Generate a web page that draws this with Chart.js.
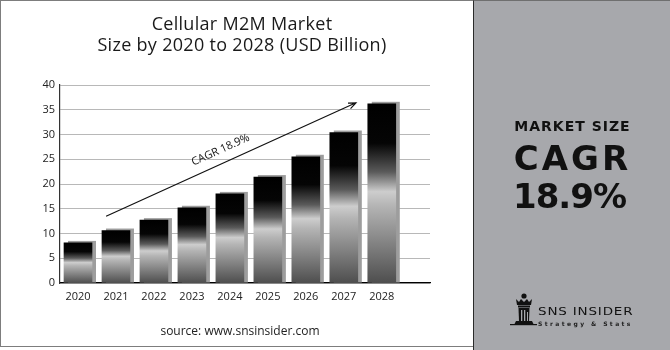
<!DOCTYPE html>
<html>
<head>
<meta charset="utf-8">
<script src="https://cdn.jsdelivr.net/npm/chart.js@4.4.1/dist/chart.umd.min.js"></script>
<style>
	html, body { margin: 0; padding: 0; background: #fff; }
	#wrap { position: relative; width: 670px; height: 350px; overflow: hidden; font-family: 'Open Sans', sans-serif; color: #1a1a1a; }
	#frame { position: absolute; left: 0; top: 0; width: 473px; height: 347px; border: 1px solid #7d7d7d; border-right: none; box-sizing: border-box; }
	#chart { position: absolute; left: 0; top: 0; }
	.title { position: absolute; left: 0; width: 484px; text-align: center; font-size: 18px; letter-spacing: 0.3px; line-height: 20px; }
	#source { position: absolute; left: 0; top: 323px; width: 480px; text-align: center; font-size: 12px; line-height: 16px; color: #222; }
	#panel { position: absolute; left: 473px; top: 0; width: 197px; height: 350px; background: #a7a8ac; border-left: 1.5px solid #2b2b2b; border-top: 1px solid #6f6f6f; box-sizing: border-box; }
	.big { position: absolute; left: 0; width: 197px; text-align: center; font-family: 'DejaVu Sans', sans-serif; font-weight: bold; color: #111; }
	#logoText { position: absolute; left: 64px; top: 305px; font-family: 'DejaVu Sans', sans-serif; font-size: 10px; letter-spacing: 0.6px; color: #111; transform: scale(1.35, 1); transform-origin: left top; white-space: nowrap; }
	#logoSub { position: absolute; left: 64px; top: 319px; font-family: 'DejaVu Sans', sans-serif; font-size: 6px; font-weight: bold; letter-spacing: 2.4px; color: #222; white-space: nowrap; }
</style>
</head>
<body>
<div id="wrap">
	<div id="frame"></div>
	<canvas id="chart" width="474" height="350"></canvas>
	<div class="title" style="top:13px">Cellular M2M Market</div>
	<div class="title" style="top:34px">Size by 2020 to 2028 (USD Billion)</div>
	<div id="source">source: www.snsinsider.com</div>
	<div id="panel">
		<div class="big" style="top:117px;font-size:14px;letter-spacing:1px">MARKET SIZE</div>
		<div class="big" style="top:137px;font-size:34px;letter-spacing:3px">CAGR</div>
		<div class="big" style="top:175px;font-size:34px;letter-spacing:-1px;left:-3px">18.9%</div>
		<svg style="position:absolute;left:36px;top:292px" width="28" height="34" viewBox="0 0 28 34">
			<circle cx="14" cy="3" r="2.6" fill="#111"/>
			<path d="M6 6 L9 9 L11 6 L14 9 L17 6 L19 9 L22 6 L21 12 L7 12 Z" fill="#111"/>
			<rect x="8" y="12.5" width="12" height="2" fill="#111"/>
			<path d="M8.5 15 L19.5 15 L19 28 L9 28 Z" fill="#111"/>
			<rect x="11" y="17" width="1.3" height="11" fill="#a7a8ac"/>
			<rect x="14" y="17" width="1.3" height="11" fill="#a7a8ac"/>
			<rect x="17" y="19" width="1" height="9" fill="#a7a8ac"/>
			<path d="M6 28 L22 28 L24 32 L4 32 Z" fill="#111"/>
			<rect x="0" y="31" width="27" height="1.2" fill="#111"/>
		</svg>
		<div id="logoText">SNS INSIDER</div>
		<div id="logoSub">Strategy &amp; Stats</div>
	</div>
</div>
<script>
const years = ['2020', '2021', '2022', '2023', '2024', '2025', '2026', '2027', '2028'];
const marketSize = [8.1, 10.6, 12.7, 15.2, 18.0, 21.4, 25.5, 30.4, 36.2];
const yTickValues = [0, 5, 10, 15, 20, 25, 30, 35, 40];
const cagrLabel = 'CAGR 18.9%';
// arrow in data units: [category index, value]
const arrowFrom = [0.74, 13.5];
const arrowTo = [7.32, 36.4];

function barFill(c) {
	const chart = c.chart;
	if (!chart.chartArea || c.type !== 'data') {
		return '#000';
	}
	const ys = chart.scales.y;
	const top = ys.getPixelForValue(c.parsed.y);
	const base = ys.getPixelForValue(0);
	const g = chart.ctx.createLinearGradient(0, top, 0, base);
	g.addColorStop(0, '#000');
	g.addColorStop(0.22, '#050505');
	g.addColorStop(0.38, '#5a5a5a');
	g.addColorStop(0.49, '#cdcdcd');
	g.addColorStop(0.57, '#b4b4b4');
	g.addColorStop(1, '#4e4e4e');
	return g;
}

const barShadow = {
	id: 'barShadow',
	beforeDatasetsDraw(chart) {
		const ctx = chart.ctx;
		ctx.save();
		ctx.fillStyle = '#9d9d9d';
		chart.getDatasetMeta(0).data.forEach(function (bar) {
			const p = bar.getProps(['x', 'y', 'base', 'width'], true);
			ctx.fillRect(p.x - p.width / 2 + 4, p.y - 2, p.width, p.base - p.y + 2);
		});
		ctx.restore();
	}
};

const cagrArrow = {
	id: 'cagrArrow',
	afterDatasetsDraw(chart) {
		const ctx = chart.ctx;
		const xs = chart.scales.x;
		const ys = chart.scales.y;
		const x1 = xs.getPixelForValue(arrowFrom[0]);
		const y1 = ys.getPixelForValue(arrowFrom[1]);
		const x2 = xs.getPixelForValue(arrowTo[0]);
		const y2 = ys.getPixelForValue(arrowTo[1]);
		const ang = Math.atan2(y2 - y1, x2 - x1);
		ctx.save();
		ctx.strokeStyle = '#111';
		ctx.lineWidth = 1.2;
		ctx.beginPath();
		ctx.moveTo(x1, y1);
		ctx.lineTo(x2, y2);
		ctx.moveTo(x2 - 8 * Math.cos(ang - 0.4), y2 - 8 * Math.sin(ang - 0.4));
		ctx.lineTo(x2, y2);
		ctx.lineTo(x2 - 8 * Math.cos(ang + 0.4), y2 - 8 * Math.sin(ang + 0.4));
		ctx.stroke();
		const mx = x1 + (x2 - x1) * 0.48;
		const my = y1 + (y2 - y1) * 0.48;
		ctx.translate(mx + 13 * Math.sin(ang), my - 13 * Math.cos(ang));
		ctx.rotate(ang);
		ctx.fillStyle = '#111';
		ctx.font = '11px "Open Sans", sans-serif';
		ctx.textAlign = 'center';
		ctx.textBaseline = 'middle';
		ctx.fillText(cagrLabel, 0, 0);
		ctx.restore();
	}
};

const ctx = document.getElementById('chart').getContext('2d');
new Chart(ctx, {
	type: 'bar',
	data: {
		datasets: [{
			data: years.map(function (y, i) { return { x: i, y: marketSize[i] }; }),
			backgroundColor: barFill,
			borderWidth: 0,
			barThickness: 28
		}]
	},
	options: {
		responsive: false,
		animation: false,
		devicePixelRatio: 1,
		layout: { padding: { top: 85, right: 44, bottom: 0, left: 0 } },
		plugins: { legend: { display: false }, tooltip: { enabled: false } },
		scales: {
			x: {
				type: 'linear',
				offset: false,
				min: -0.474,
				max: 9.27,
				afterBuildTicks: function (scale) {
					scale.ticks = years.map(function (y, i) { return { value: i }; });
				},
				afterFit: function (scale) { scale.height = 67; },
				grid: { display: false, drawTicks: false, offset: false },
				border: { display: true, color: '#000', width: 1.3 },
				ticks: {
					padding: 7,
					color: '#222',
					font: { family: 'Open Sans', size: 11 },
					callback: function (v) { return years[v] !== undefined ? years[v] : ''; }
				}
			},
			y: {
				min: 0,
				max: 40,
				afterBuildTicks: function (scale) {
					scale.ticks = yTickValues.map(function (v) { return { value: v }; });
				},
				afterFit: function (scale) { scale.width = 60; },
				grid: { color: '#b8b8b8', lineWidth: 1, drawTicks: false },
				border: { display: true, color: '#333', width: 1.2 },
				ticks: {
					padding: 5,
					color: '#222',
					font: { family: 'Open Sans', size: 11 }
				}
			}
		}
	},
	plugins: [barShadow, cagrArrow]
});
</script>
</body>
</html>
